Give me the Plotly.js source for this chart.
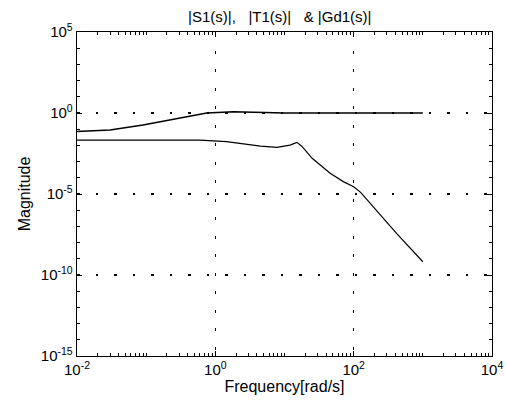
<!DOCTYPE html>
<html><head><meta charset="utf-8">
<script src="https://cdn.plot.ly/plotly-3.0.1.min.js"></script>
<style>html,body{margin:0;padding:0;background:#fff}#c{width:506px;height:401px}</style>
</head><body><div id="c"></div>
<script>
// |S1(s)| (upper curve)
const freqS = [0.01, 0.03, 0.09, 0.275, 0.48, 0.75, 1.82, 4.5, 5.5, 10, 100, 1000];
const magS  = [0.071, 0.089, 0.18, 0.47, 0.69, 1.0, 1.2, 1.1, 1.0, 1.0, 1.0, 1.0];
// |Gd1(s)| (lower curve)
const freqG = [0.01, 0.6, 1.45, 4.5, 7.8, 12, 15.1, 17.8, 20.9, 25.1, 31.6, 45.7, 70.8, 100, 126, 174, 417, 1000];
const magG  = [2.1e-2, 2.1e-2, 1.7e-2, 9.1e-3, 7.6e-3, 1.05e-2, 1.55e-2, 8.9e-3, 4.0e-3, 1.6e-3, 7.1e-4, 1.9e-4, 5.8e-5, 2.8e-5, 1.26e-5, 2.6e-6, 3.7e-8, 6.6e-10];
// axis ticks
const xTickVals = [1e-2, 1e0, 1e2, 1e4];
const xTickText = ['10<sup>-2</sup>', '10<sup>0</sup>', '10<sup>2</sup>', '10<sup>4</sup>'];
const yTickVals = [1e-15, 1e-10, 1e-5, 1e0, 1e5];
const yTickText = ['10<sup>-15</sup>', '10<sup>-10</sup>', '10<sup>-5</sup>', '10<sup>0</sup>', '10<sup>5</sup>'];
const xGrid = [1e0, 1e2];
const yGrid = [1e-10, 1e-5, 1e0];

const fam = 'Liberation Sans, Arial, sans-serif';
const traces = [
  {x: freqS, y: magS, type: 'scatter', mode: 'lines', line: {color: '#000', width: 1.5}, hoverinfo: 'skip'},
  {x: freqG, y: magG, type: 'scatter', mode: 'lines', line: {color: '#000', width: 1.2}, hoverinfo: 'skip'},
  {x: [xGrid[0]], y: [yGrid[0]], xaxis: 'x2', yaxis: 'y2', type: 'scatter', mode: 'markers', marker: {opacity: 0}, hoverinfo: 'skip'}
];
const axBase = {type: 'log', showline: true, linecolor: '#000', linewidth: 1.3, mirror: 'ticks', zeroline: false};
const layout = {
  width: 506, height: 401,
  margin: {l: 77, r: 14, t: 32, b: 45},
  paper_bgcolor: '#fff', plot_bgcolor: '#fff',
  showlegend: false, font: {family: fam, size: 15, color: '#000'},
  title: {text: '|S1(s)|,&nbsp;&nbsp;&nbsp;|T1(s)|&nbsp;&nbsp;&nbsp;&amp; |Gd1(s)|', x: 0.553, xanchor: 'center', y: 0.958, yanchor: 'middle', font: {family: fam, size: 15, color: '#000'}},
  xaxis: Object.assign({}, axBase, {
    range: [-2, 4], tickvals: xTickVals, ticktext: xTickText, ticks: 'inside', ticklen: 5, tickcolor: '#000',
    showgrid: false, tickfont: {family: fam, size: 15},
    minor: {ticks: 'inside', ticklen: 3, tickcolor: '#000', showgrid: false, dtick: 'D1'},
    title: {text: 'Frequency[rad/s]', font: {family: fam, size: 16}, standoff: 2}
  }),
  yaxis: Object.assign({}, axBase, {
    range: [-15, 5], tickvals: yTickVals, ticktext: yTickText, ticks: 'inside', ticklen: 5, tickcolor: '#000',
    showgrid: false, tickfont: {family: fam, size: 15},
    minor: {ticks: 'inside', ticklen: 3, tickcolor: '#000', showgrid: false, dtick: 1},
    title: {text: 'Magnitude', font: {family: fam, size: 16}, standoff: 6}
  }),
  xaxis2: {type: 'log', overlaying: 'x', range: [-2, 4], tickvals: xGrid, showgrid: true, gridcolor: '#000', gridwidth: 1.2, griddash: '3px,15.5px', showticklabels: false, ticks: '', showline: false, zeroline: false, side: 'bottom'},
  yaxis2: {type: 'log', overlaying: 'y', range: [-15, 5], tickvals: yGrid, showgrid: true, gridcolor: '#000', gridwidth: 1.2, griddash: '2.5px,16px', showticklabels: false, ticks: '', showline: false, zeroline: false, side: 'left'}
};
Plotly.newPlot('c', traces, layout, {staticPlot: true, displayModeBar: false});
</script></body></html>
